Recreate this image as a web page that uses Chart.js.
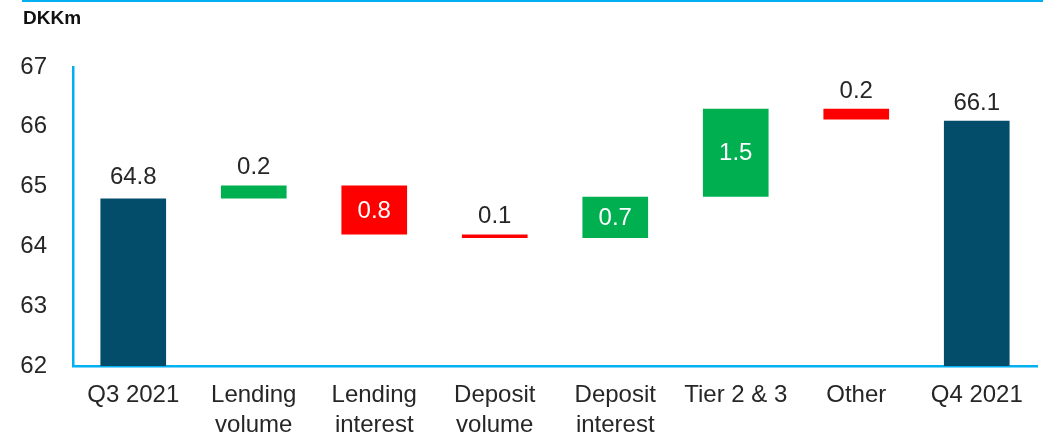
<!DOCTYPE html>
<html>
<head>
<meta charset="utf-8">
<script src="https://cdn.jsdelivr.net/npm/chart.js@4.4.1/dist/chart.umd.min.js"></script>
<style>
  html, body { margin: 0; padding: 0; background: #fff; }
  #wrap { position: relative; width: 1043px; height: 435px; }
  #topline { position: absolute; left: 22px; top: 0; width: 1021px; height: 2px; background: #00b0f0; }
  #unit { position: absolute; left: 23px; top: 7px; font: bold 19px "Liberation Sans", Arial, sans-serif; color: #111; }
</style>
</head>
<body>
<div id="wrap">
  <div id="topline"></div>
  <div id="unit">DKKm</div>
  <canvas id="myChart" width="1043" height="435"></canvas>
</div>
<script>
// Data
const categories = [
  'Q3 2021',
  ['Lending', 'volume'],
  ['Lending', 'interest'],
  ['Deposit', 'volume'],
  ['Deposit', 'interest'],
  'Tier 2 & 3',
  'Other',
  'Q4 2021'
]
const startValue = 64.8
const changes = [0.22, -0.82, -0.06, 0.69, 1.47, -0.18]
const endValue = 66.1
const yTicks = [62, 63, 64, 65, 66, 67]

const navy = '#034d6b'
const green = '#00b050'
const red = '#ff0000'
const axisBlue = '#00b0f0'
const textColor = '#262626'
const fontFamily = '"Liberation Sans", Arial, sans-serif'

// build floating bars
const bars = [[yTicks[0], startValue]]
const colors = [navy]
const labels = [startValue.toFixed(1)]
let level = startValue
changes.forEach(d => {
  bars.push([Math.min(level, level + d), Math.max(level, level + d)])
  colors.push(d >= 0 ? green : red)
  labels.push(Math.abs(d).toFixed(1))
  level += d
})
bars.push([yTicks[0], endValue])
colors.push(navy)
labels.push(endValue.toFixed(1))

// value labels: big change bars get white text inside, others text above
const valueLabels = {
  id: 'valueLabels',
  afterDatasetsDraw(chart) {
    const ctx = chart.ctx
    const meta = chart.getDatasetMeta(0)
    ctx.save()
    ctx.font = '24px ' + fontFamily
    ctx.textAlign = 'center'
    meta.data.forEach((bar, i) => {
      const isChange = i > 0 && i < bars.length - 1
      const inside = isChange && Math.abs(changes[i - 1]) >= 0.5
      const top = Math.min(bar.y, bar.base)
      const bottom = Math.max(bar.y, bar.base)
      if (inside) {
        ctx.fillStyle = '#fff'
        ctx.textBaseline = 'middle'
        ctx.fillText(labels[i], bar.x, (top + bottom) / 2 + 1)
      } else {
        ctx.fillStyle = textColor
        ctx.textBaseline = 'alphabetic'
        ctx.fillText(labels[i], bar.x, top - (i === 0 ? 15 : 11))
      }
    })
    ctx.restore()
  }
}

const ctx = document.getElementById('myChart')
const myChart = new Chart(ctx, {
  type: 'bar',
  data: {
    labels: categories,
    datasets: [{
      data: bars,
      backgroundColor: colors,
      borderWidth: 0,
      categoryPercentage: 1,
      barPercentage: 0.545
    }]
  },
  options: {
    responsive: false,
    animation: false,
    layout: { padding: { top: 67, right: 6, left: 0, bottom: 0 } },
    plugins: {
      legend: { display: false },
      tooltip: { enabled: false }
    },
    scales: {
      x: {
        grid: { display: false, drawTicks: false },
        border: { display: true, color: axisBlue, width: 2.5 },
        ticks: {
          color: textColor,
          font: { family: fontFamily, size: 24, lineHeight: 1.25 },
          padding: 14,
          maxRotation: 0,
          autoSkip: false
        },
        afterFit(scale) { scale.height = 69 }
      },
      y: {
        min: yTicks[0],
        max: yTicks[yTicks.length - 1],
        grid: { display: false, drawTicks: false },
        border: { display: true, color: axisBlue, width: 2.5 },
        afterBuildTicks(scale) { scale.ticks = yTicks.map(v => ({ value: v })) },
        ticks: {
          color: textColor,
          font: { family: fontFamily, size: 24 },
          padding: 26
        },
        afterFit(scale) { scale.width = 73 }
      }
    }
  },
  plugins: [valueLabels]
})
</script>
</body>
</html>
